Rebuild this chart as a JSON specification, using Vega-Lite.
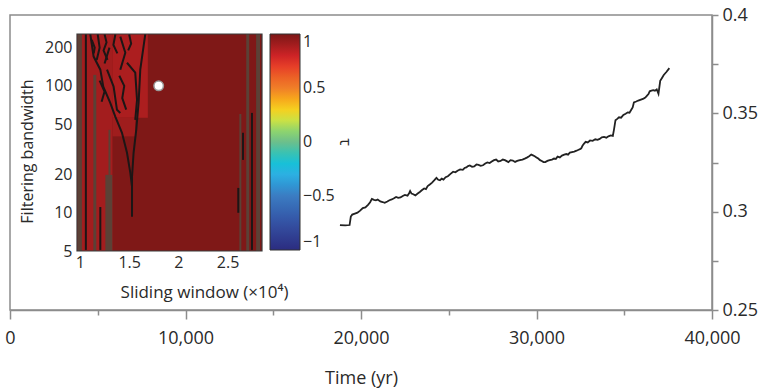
{
  "$schema": "https://vega.github.io/schema/vega-lite/v6.json",
  "width": 702,
  "height": 295,
  "autosize": {"type": "none"},
  "padding": {"left": 10, "top": 15, "right": 56, "bottom": 81},
  "background": "white",
  "config": {
    "view": {"stroke": "#8c8c8c", "strokeWidth": 1.5},
    "font": "Open Sans",
    "axis": {"labelFont": "Open Sans", "titleFont": "Open Sans", "titleFontWeight": "normal", "labelColor": "#2a2a2a", "titleColor": "#2a2a2a", "grid": false}
  },
  "datasets": {
    "main": [
      {"t": 18800, "v": 0.2932}, {"t": 19100, "v": 0.293}, {"t": 19350, "v": 0.2932}, {"t": 19420, "v": 0.2975},
      {"t": 19500, "v": 0.2985}, {"t": 19650, "v": 0.299}, {"t": 19800, "v": 0.2995}, {"t": 19950, "v": 0.3005},
      {"t": 20100, "v": 0.3018}, {"t": 20250, "v": 0.3022}, {"t": 20400, "v": 0.3035}, {"t": 20520, "v": 0.3048},
      {"t": 20620, "v": 0.3065}, {"t": 20740, "v": 0.306}, {"t": 20850, "v": 0.3058}, {"t": 20950, "v": 0.3062},
      {"t": 21100, "v": 0.3052}, {"t": 21230, "v": 0.3049}, {"t": 21350, "v": 0.3045}, {"t": 21500, "v": 0.3052},
      {"t": 21620, "v": 0.3058}, {"t": 21750, "v": 0.3062}, {"t": 21880, "v": 0.3068}, {"t": 22000, "v": 0.3075},
      {"t": 22120, "v": 0.307}, {"t": 22250, "v": 0.3072}, {"t": 22380, "v": 0.308}, {"t": 22500, "v": 0.3085},
      {"t": 22650, "v": 0.3081}, {"t": 22750, "v": 0.3095}, {"t": 22800, "v": 0.3105}, {"t": 22880, "v": 0.3092},
      {"t": 22950, "v": 0.309}, {"t": 23100, "v": 0.3083}, {"t": 23230, "v": 0.3092}, {"t": 23350, "v": 0.31},
      {"t": 23480, "v": 0.311}, {"t": 23600, "v": 0.3118}, {"t": 23700, "v": 0.3115}, {"t": 23800, "v": 0.313},
      {"t": 23920, "v": 0.3138}, {"t": 24050, "v": 0.3148}, {"t": 24180, "v": 0.316}, {"t": 24300, "v": 0.3172},
      {"t": 24400, "v": 0.3162}, {"t": 24500, "v": 0.316}, {"t": 24600, "v": 0.3168}, {"t": 24700, "v": 0.3163},
      {"t": 24820, "v": 0.3175}, {"t": 24950, "v": 0.318}, {"t": 25100, "v": 0.3192}, {"t": 25250, "v": 0.3203},
      {"t": 25380, "v": 0.32}, {"t": 25500, "v": 0.3208}, {"t": 25650, "v": 0.3215}, {"t": 25800, "v": 0.3213},
      {"t": 25900, "v": 0.3222}, {"t": 26000, "v": 0.3225}, {"t": 26100, "v": 0.3232}, {"t": 26200, "v": 0.3235},
      {"t": 26330, "v": 0.3228}, {"t": 26450, "v": 0.323}, {"t": 26580, "v": 0.324}, {"t": 26700, "v": 0.3238},
      {"t": 26820, "v": 0.3233}, {"t": 26950, "v": 0.3236}, {"t": 27080, "v": 0.3245}, {"t": 27200, "v": 0.325},
      {"t": 27330, "v": 0.3247}, {"t": 27450, "v": 0.3255}, {"t": 27580, "v": 0.3262}, {"t": 27700, "v": 0.3265},
      {"t": 27820, "v": 0.3255}, {"t": 27950, "v": 0.3258}, {"t": 28080, "v": 0.3265}, {"t": 28200, "v": 0.3262},
      {"t": 28300, "v": 0.3257}, {"t": 28400, "v": 0.3252}, {"t": 28520, "v": 0.3262}, {"t": 28650, "v": 0.326},
      {"t": 28780, "v": 0.3253}, {"t": 28900, "v": 0.3258}, {"t": 29050, "v": 0.3262}, {"t": 29200, "v": 0.3265},
      {"t": 29330, "v": 0.327}, {"t": 29450, "v": 0.3275}, {"t": 29580, "v": 0.3282}, {"t": 29700, "v": 0.329},
      {"t": 29800, "v": 0.3286}, {"t": 29900, "v": 0.3282}, {"t": 30000, "v": 0.3276}, {"t": 30100, "v": 0.327},
      {"t": 30200, "v": 0.3262}, {"t": 30300, "v": 0.3258}, {"t": 30400, "v": 0.3252}, {"t": 30500, "v": 0.3252},
      {"t": 30620, "v": 0.3258}, {"t": 30750, "v": 0.3262}, {"t": 30880, "v": 0.3265}, {"t": 31000, "v": 0.327},
      {"t": 31100, "v": 0.3268}, {"t": 31200, "v": 0.328}, {"t": 31330, "v": 0.3276}, {"t": 31450, "v": 0.3285},
      {"t": 31580, "v": 0.329}, {"t": 31700, "v": 0.3293}, {"t": 31800, "v": 0.329}, {"t": 31900, "v": 0.33},
      {"t": 32020, "v": 0.3303}, {"t": 32150, "v": 0.3305}, {"t": 32280, "v": 0.331}, {"t": 32400, "v": 0.3315},
      {"t": 32480, "v": 0.3318}, {"t": 32550, "v": 0.3322}, {"t": 32620, "v": 0.3335}, {"t": 32700, "v": 0.3345},
      {"t": 32800, "v": 0.3355}, {"t": 32920, "v": 0.3352}, {"t": 33050, "v": 0.3362}, {"t": 33200, "v": 0.336},
      {"t": 33350, "v": 0.3368}, {"t": 33480, "v": 0.3365}, {"t": 33600, "v": 0.337}, {"t": 33720, "v": 0.3378},
      {"t": 33850, "v": 0.338}, {"t": 33980, "v": 0.3376}, {"t": 34100, "v": 0.3383}, {"t": 34230, "v": 0.3388},
      {"t": 34350, "v": 0.3385}, {"t": 34420, "v": 0.342}, {"t": 34500, "v": 0.3465}, {"t": 34600, "v": 0.3472},
      {"t": 34700, "v": 0.348}, {"t": 34820, "v": 0.3478}, {"t": 34950, "v": 0.3492}, {"t": 35080, "v": 0.3498},
      {"t": 35200, "v": 0.3505}, {"t": 35300, "v": 0.3503}, {"t": 35400, "v": 0.3518}, {"t": 35480, "v": 0.353},
      {"t": 35550, "v": 0.3555}, {"t": 35680, "v": 0.356}, {"t": 35800, "v": 0.3565}, {"t": 35950, "v": 0.357},
      {"t": 36100, "v": 0.3575}, {"t": 36200, "v": 0.358}, {"t": 36300, "v": 0.359}, {"t": 36380, "v": 0.3598},
      {"t": 36450, "v": 0.3612}, {"t": 36550, "v": 0.3615}, {"t": 36650, "v": 0.3618}, {"t": 36750, "v": 0.3615},
      {"t": 36850, "v": 0.3622}, {"t": 36950, "v": 0.36}, {"t": 37050, "v": 0.3665}, {"t": 37150, "v": 0.368},
      {"t": 37250, "v": 0.3695}, {"t": 37400, "v": 0.371}, {"t": 37570, "v": 0.373}
    ],
    "cells": [
      {"sw": 0.97, "sw2": 2.85, "fb": 5, "fb2": 256, "tau": 0.99},
      {"sw": 0.97, "sw2": 1.33, "fb": 5, "fb2": 256, "tau": 0.9},
      {"sw": 1.33, "sw2": 1.69, "fb": 56, "fb2": 256, "tau": 0.88},
      {"sw": 1.33, "sw2": 1.56, "fb": 40, "fb2": 56, "tau": 0.91}
    ],
    "stripes": [
      {"sw": 0.975, "sw2": 1.02, "fb": 5, "fb2": 256},
      {"sw": 1.136, "sw2": 1.166, "fb": 5, "fb2": 122},
      {"sw": 1.258, "sw2": 1.329, "fb": 5, "fb2": 19.9},
      {"sw": 1.29, "sw2": 1.31, "fb": 19.9, "fb2": 45},
      {"sw": 2.62, "sw2": 2.64, "fb": 5, "fb2": 60},
      {"sw": 2.69, "sw2": 2.72, "fb": 5, "fb2": 256},
      {"sw": 2.79, "sw2": 2.83, "fb": 5, "fb2": 256}
    ],
    "contours": [
      {"seg": "a", "sw": 1.06, "fb": 5.1}, {"seg": "a", "sw": 1.06, "fb": 255},
      {"seg": "b", "sw": 1.207, "fb": 5.1}, {"seg": "b", "sw": 1.207, "fb": 11.1},
      {"seg": "c", "sw": 1.664, "fb": 255}, {"seg": "c", "sw": 1.613, "fb": 134}, {"seg": "c", "sw": 1.596, "fb": 73.5},
      {"seg": "c", "sw": 1.572, "fb": 45}, {"seg": "c", "sw": 1.545, "fb": 29.7}, {"seg": "c", "sw": 1.529, "fb": 19.2},
      {"seg": "c", "sw": 1.529, "fb": 16}, {"seg": "c", "sw": 1.529, "fb": 9.3},
      {"seg": "d", "sw": 1.105, "fb": 255}, {"seg": "d", "sw": 1.139, "fb": 170}, {"seg": "d", "sw": 1.207, "fb": 134},
      {"seg": "d", "sw": 1.237, "fb": 98.6}, {"seg": "d", "sw": 1.308, "fb": 73.5}, {"seg": "d", "sw": 1.359, "fb": 57.3},
      {"seg": "d", "sw": 1.427, "fb": 42.7}, {"seg": "d", "sw": 1.478, "fb": 29.7}, {"seg": "d", "sw": 1.512, "fb": 20.6},
      {"seg": "d", "sw": 1.529, "fb": 16.1},
      {"seg": "e", "sw": 1.478, "fb": 152}, {"seg": "e", "sw": 1.562, "fb": 127}, {"seg": "e", "sw": 1.58, "fb": 77.6},
      {"seg": "e", "sw": 1.562, "fb": 54},
      {"seg": "f", "sw": 1.275, "fb": 134}, {"seg": "f", "sw": 1.342, "fb": 98.6}, {"seg": "f", "sw": 1.376, "fb": 64.7},
      {"seg": "f", "sw": 1.41, "fb": 61},
      {"seg": "g", "sw": 1.41, "fb": 244}, {"seg": "g", "sw": 1.461, "fb": 182}, {"seg": "g", "sw": 1.41, "fb": 134},
      {"seg": "h", "sw": 1.3, "fb": 200}, {"seg": "h", "sw": 1.25, "fb": 150},
      {"seg": "k", "sw": 1.18, "fb": 255}, {"seg": "k", "sw": 1.2, "fb": 200}, {"seg": "k", "sw": 1.17, "fb": 160},
      {"seg": "n", "sw": 1.12, "fb": 230}, {"seg": "n", "sw": 1.15, "fb": 200}, {"seg": "n", "sw": 1.14, "fb": 180},
      {"seg": "o", "sw": 1.25, "fb": 255}, {"seg": "o", "sw": 1.27, "fb": 220}, {"seg": "o", "sw": 1.24, "fb": 190}, {"seg": "o", "sw": 1.28, "fb": 160},
      {"seg": "p", "sw": 1.36, "fb": 255}, {"seg": "p", "sw": 1.34, "fb": 210}, {"seg": "p", "sw": 1.38, "fb": 180},
      {"seg": "q", "sw": 1.5, "fb": 255}, {"seg": "q", "sw": 1.52, "fb": 215}, {"seg": "q", "sw": 1.49, "fb": 190},
      {"seg": "r", "sw": 1.4, "fb": 120}, {"seg": "r", "sw": 1.45, "fb": 100}, {"seg": "r", "sw": 1.43, "fb": 80}, {"seg": "r", "sw": 1.47, "fb": 65},
      {"seg": "s", "sw": 1.2, "fb": 110}, {"seg": "s", "sw": 1.25, "fb": 90}, {"seg": "s", "sw": 1.22, "fb": 75},
      {"seg": "i", "sw": 2.748, "fb": 5.1}, {"seg": "i", "sw": 2.748, "fb": 61.2},
      {"seg": "j", "sw": 2.657, "fb": 26.1}, {"seg": "j", "sw": 2.657, "fb": 42.7},
      {"seg": "m", "sw": 2.609, "fb": 10}, {"seg": "m", "sw": 2.609, "fb": 15.7}
    ],
    "dot": [{"sw": 1.8, "fb": 100}],
    "frame": [{"sw": 0.97, "sw2": 2.85, "fb": 5, "fb2": 256}]
  },
  "layer": [
    {
      "data": {"name": "main"},
      "mark": {"type": "line", "color": "#222222", "strokeWidth": 1.8},
      "encoding": {
        "x": {
          "field": "t", "type": "quantitative",
          "scale": {"domain": [0, 40000], "nice": false, "zero": false},
          "axis": {
            "orient": "bottom", "title": "Time (yr)",
            "values": [0, 5000, 10000, 15000, 20000, 25000, 30000, 35000, 40000],
            "labelExpr": "datum.value % 10000 === 0 ? format(datum.value, ',') : ''",
            "labelFontSize": 18, "labelPadding": 10, "labelFlush": false,
            "tickSize": {"condition": {"test": "datum.value % 10000 === 0", "value": 9}, "value": 5},
            "tickColor": "#8c8c8c", "tickWidth": 1.5, "domainColor": "#8c8c8c", "domainWidth": 1.5,
            "titleFontSize": 18, "titleY": 68, "titleBaseline": "middle"
          }
        },
        "y": {
          "field": "v", "type": "quantitative",
          "scale": {"domain": [0.25, 0.4], "nice": false, "zero": false},
          "axis": {
            "orient": "right", "title": null,
            "values": [0.25, 0.275, 0.3, 0.325, 0.35, 0.375, 0.4],
            "labelExpr": "round(datum.value * 40) % 2 === 0 ? format(datum.value, '.2~f') : ''",
            "labelFontSize": 18, "labelPadding": 4, "tickSize": 6, "labelFlush": false,
            "tickColor": "#8c8c8c", "tickWidth": 1.5, "domainColor": "#8c8c8c", "domainWidth": 1.5
          }
        }
      }
    },
    {
      "encoding": {
        "x": {
          "field": "sw", "type": "quantitative",
          "scale": {"domain": [0.97, 2.85], "range": [67, 252], "nice": false, "zero": false},
          "axis": {
            "orient": "bottom", "offset": -59, "title": "Sliding window (×10⁴)",
            "values": [1, 1.5, 2, 2.5], "format": "~g", "ticks": false, "domain": false,
            "labelFontSize": 16, "labelPadding": 3, "labelFlush": false,
            "titleFontSize": 17, "titleX": 194, "titleY": 41, "titleBaseline": "middle"
          }
        },
        "y": {
          "field": "fb", "type": "quantitative",
          "scale": {"type": "log", "domain": [5, 256], "range": [236, 19], "nice": false, "zero": false},
          "axis": {
            "orient": "left", "offset": -67, "title": "Filtering bandwidth",
            "values": [5, 10, 20, 50, 100, 200], "format": "~g", "ticks": false, "domain": false,
            "labelFontSize": 16, "labelPadding": 5, "labelFlush": false,
            "titleFontSize": 16, "titleX": -50, "titleY": 136, "titleBaseline": "middle", "titleAngle": -90
          }
        }
      },
      "layer": [
        {
          "data": {"name": "cells"},
          "mark": {"type": "rect"},
          "encoding": {
            "x2": {"field": "sw2"},
            "y2": {"field": "fb2"},
            "color": {
              "field": "tau", "type": "quantitative",
              "scale": {
                "domain": [-1, -0.75, -0.5, -0.25, 0, 0.25, 0.5, 0.75, 1],
                "range": ["#2b2c80", "#3551a3", "#3b7cc2", "#30bde8", "#6cbf8c", "#f1e42c", "#f07e28", "#e3262a", "#7b1716"]
              },
              "legend": {
                "orient": "none", "legendX": 260, "legendY": 19, "direction": "vertical",
                "gradientLength": 216, "gradientThickness": 30, "padding": 0,
                "values": [-1, -0.5, 0, 0.5, 1], "format": ".1~f",
                "labelFont": "Open Sans", "labelFontSize": 16, "labelColor": "#2a2a2a", "labelOffset": 3,
                "gradientStrokeColor": "#333", "gradientStrokeWidth": 1,
                "title": "τ", "titleOrient": "right", "titleAngle": 90, "titleAnchor": "middle", "titlePadding": 2,
                "titleFont": "Open Sans", "titleFontSize": 16, "titleFontWeight": "normal", "titleColor": "#2a2a2a"
              }
            }
          }
        },
        {
          "data": {"name": "stripes"},
          "mark": {"type": "rect", "color": "#5b4136"},
          "encoding": {"x2": {"field": "sw2"}, "y2": {"field": "fb2"}}
        },
        {
          "data": {"name": "contours"},
          "mark": {"type": "line", "color": "#1c1616", "strokeWidth": 2},
          "encoding": {"detail": {"field": "seg"}, "order": {"field": "fb", "type": "quantitative"}}
        },
        {
          "data": {"name": "frame"},
          "mark": {"type": "rect", "fill": "transparent", "stroke": "#3a3a3a", "strokeWidth": 1.2},
          "encoding": {"x2": {"field": "sw2"}, "y2": {"field": "fb2"}}
        },
        {
          "data": {"name": "dot"},
          "mark": {"type": "point", "filled": true, "fill": "white", "stroke": "#9a9a9a", "strokeWidth": 1.5, "size": 90, "opacity": 1},
          "encoding": {}
        }
      ]
    }
  ],
  "resolve": {"scale": {"x": "independent", "y": "independent"}}
}
